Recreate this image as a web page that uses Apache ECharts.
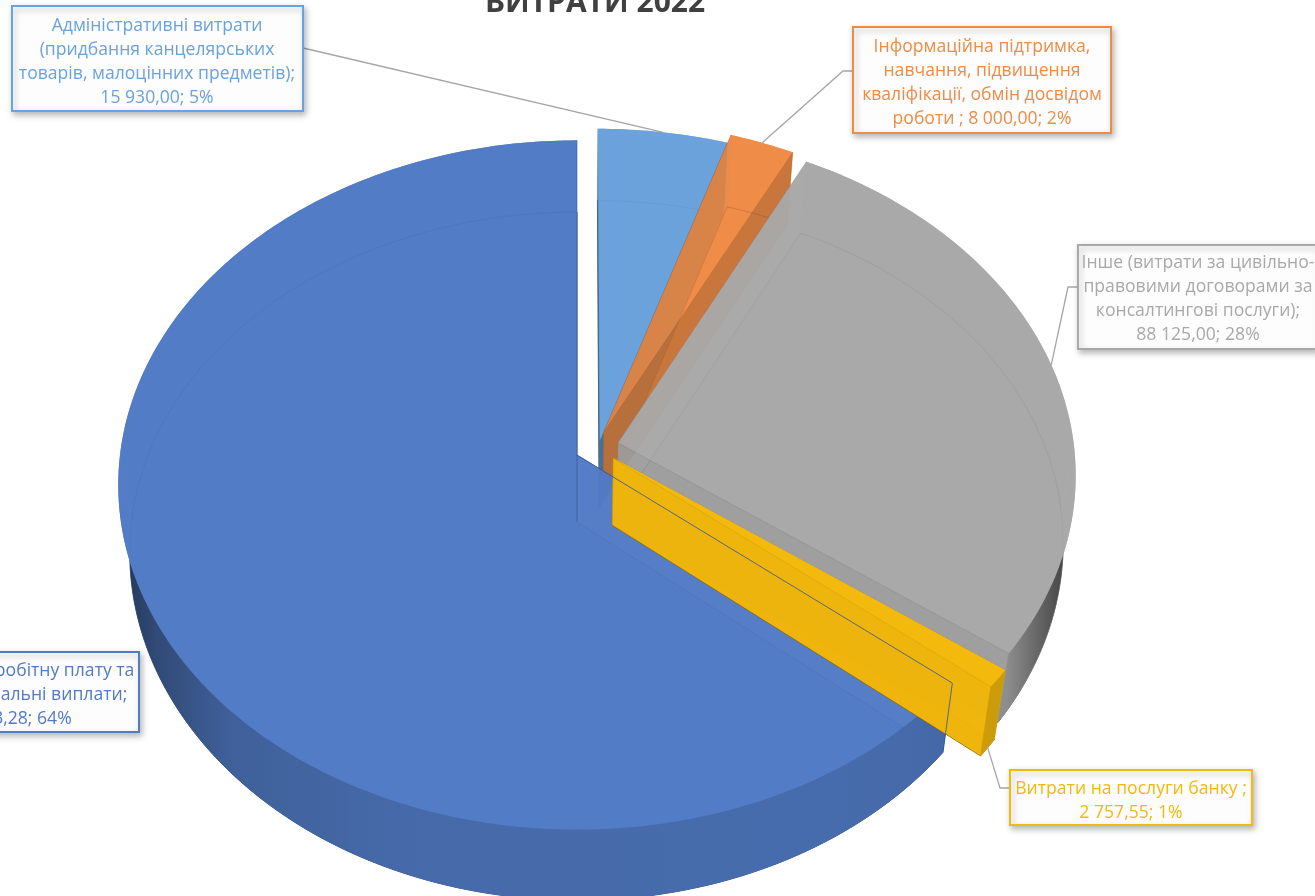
<!DOCTYPE html>
<html>
<head>
<meta charset="utf-8">
<style>html,body{margin:0;padding:0;background:#fff;overflow:hidden}#c{width:1315px;height:896px}</style>
<script src="https://cdn.jsdelivr.net/npm/echarts@6/dist/echarts.min.js"></script>
</head>
<body>
<div id="c"></div>
<script>
const titleText = 'ВИТРАТИ 2022';
const categories = [
  'Адміністративні витрати\n(придбання канцелярських\nтоварів, малоцінних предметів);\n',
  'Інформаційна підтримка,\nнавчання, підвищення\nкваліфікації, обмін досвідом\nроботи ; ',
  'Інше (витрати за цивільно-\nправовими договорами за\nконсалтингові послуги);\n',
  'Витрати на послуги банку ;\n',
  'Витрати на заробітну плату та\nй всі інші соціальні виплати;\n'
];
const values = [15930.00, 8000.00, 88125.00, 2757.55, 205403.28];
const colors = ['#6AA2DB', '#EE8B45', '#A9A9A9', '#F3B90C', '#517BC5'];

const view = {cx: 577, cy: 455, rx: 457, ry: 342, k: 0.087, depth: 67, shrink: 0.975};
const explodeX = [0.05, 0.059, 0.09, 0.079, 0];
const explodeY = [-0.04, -0.067, -0.035, 0.009, 0];
const drawRank = [0, 1, 2, 4, 3];
const wallShade = [0.6, 0.8, 0.92, 0.98, 0.9];
const topAlpha = [0.9, 0.72, 0.88, 0.9, 0.9];
const boxes = [
  {x: 12, y: 6, w: 291, h: 105, tx: 157, ty: 62, from: [303, 48], via: [316, 51], bottomEnd: false},
  {x: 853, y: 27, w: 258, h: 106, tx: 982, ty: 83, from: [853, 71], via: [843, 71], bottomEnd: false},
  {x: 1078, y: 245, w: 240, h: 104, tx: 1198, ty: 299, from: [1078, 287], via: [1068, 287], bottomEnd: false},
  {x: 1010, y: 770, w: 242, h: 55, tx: 1131, ty: 801, from: [1010, 788], via: [1000, 788], bottomEnd: true},
  {x: -127, y: 652, w: 266, h: 80, tx: 5, ty: 695}
];

const total = values.reduce((a, b) => a + b, 0);
const fmt = v => {
  const p = v.toFixed(2).split('.');
  return p[0].replace(/\B(?=(\d{3})+(?!\d))/g, ' ') + ',' + p[1];
};
function project(X, Y, bottom) {
  const w = 1 - view.k * Y;
  let sx = view.rx * X / w, sy = view.ry * Y / w;
  if (bottom) {
    sx *= view.shrink;
    sy = sy * (sy < 0 ? 0.985 : 1.01) + view.depth;
  }
  return [view.cx + sx, view.cy + sy];
}
// screen point back to the plane of the top face
function unproject(p) {
  const sx = p[0] - view.cx, sy = p[1] - view.cy;
  const Y = sy / (view.ry + view.k * sy);
  const X = sx * (1 - view.k * Y) / view.rx;
  return [X, Y];
}
function shade(hex, f) {
  const n = parseInt(hex.slice(1), 16);
  const c = [n >> 16, (n >> 8) & 255, n & 255].map(v => Math.round(v * f));
  return 'rgb(' + c.join(',') + ')';
}
function render(params, api) {
  const i = params.dataIndex;
  const v = api.value(0);
  let start = 0;
  for (let j = 0; j < i; j++) start += values[j];
  const a0 = start / total * Math.PI * 2;
  const a1 = (start + v) / total * Math.PI * 2;
  const ox = explodeX[i], oy = explodeY[i];
  const pt = (a, b) => project(Math.sin(a) + ox, -Math.cos(a) + oy, b);
  const apex = b => project(ox, oy, b);
  const arc = (s, e, b) => {
    const out = [];
    const n = Math.max(2, Math.ceil(Math.abs(e - s) / 0.015));
    for (let t = 0; t <= n; t++) out.push(pt(s + (e - s) * t / n, b));
    return out;
  };
  const base = colors[i];
  const z = drawRank[i] * 10 + 10;
  const poly = (points, fill, opacity, dz, stroke, lw) => ({
    type: 'polygon', silent: true, z2: z + dz,
    shape: {points},
    style: {fill, opacity, stroke: stroke || null, lineWidth: lw || 0}
  });
  const rim = (s, e) => arc(s, e, false).concat(arc(s, e, true).reverse());
  const frontGrad = new echarts.graphic.LinearGradient(118, 0, 1063, 0, [
    {offset: 0, color: shade(base, 0.42)},
    {offset: 0.04, color: shade(base, 0.6)},
    {offset: 0.12, color: shade(base, 0.78)},
    {offset: 0.3, color: shade(base, 0.86)},
    {offset: 0.75, color: shade(base, 0.88)},
    {offset: 0.94, color: shade(base, 0.84)},
    {offset: 1, color: shade(base, 0.42)}
  ], true);
  const PI = Math.PI;
  const edge = shade(base, 0.42);
  const children = [];
  // underlay of the whole side, so the top face has an even tone
  const backRanges = [[a0, Math.min(a1, PI / 2)], [Math.max(a0, PI * 1.5), a1]];
  backRanges.forEach(r => { if (r[1] > r[0]) children.push(poly(rim(r[0], r[1]), base, 0.95, 0)); });
  const fs = Math.max(a0, PI / 2), fe = Math.min(a1, PI * 1.5);
  // bottom face
  children.push(poly([apex(true)].concat(arc(a0, a1, true)), base, 0.95, 1, edge, 0.9));
  if (fe > fs) {
    const topOnly = arc(fs, fe, false).concat(arc(fs, fe, true).reverse());
    children.push(poly(topOnly, base, 0.95, 1));
  }
  // radial walls
  const wall = a => [apex(false), pt(a, false), pt(a, true), apex(true)];
  children.push(poly(wall(a0), shade(base, wallShade[i]), 0.72, 2, shade(base, 0.72), 0.5));
  // top face
  children.push(poly([apex(false)].concat(arc(a0, a1, false)), base, topAlpha[i], 3));
  // wall on the clockwise side
  children.push(poly(wall(a1), shade(base, wallShade[i]), i === 3 ? 0.97 : 0.8, 4, shade(base, 0.72), 0.4));
  // front rim: only the part of the side that falls outside the top face
  if (fe > fs) {
    const outside = [];
    const n = Math.ceil((fe - fs) / 0.005);
    for (let t = 0; t <= n; t++) {
      const a = fs + (fe - fs) * t / n;
      const u = unproject(pt(a, true));
      const dx = u[0] - ox, dy = u[1] - oy;
      if (dx * dx + dy * dy > 1) outside.push({a, top: Math.atan2(dx, -dy)});
    }
    if (outside.length > 1) {
      const first = outside[0], last = outside[outside.length - 1];
      const norm = x => (x < 0 ? x + 2 * PI : x);
      const topS = first.a === fs ? fs : norm(first.top);
      const topE = last.a === fe ? fe : norm(last.top);
      children.push(poly(arc(topS, topE, false).concat(arc(first.a, last.a, true).reverse()), frontGrad, 1, 5));
    }
  }
  if (i === 3) {
    children.push(poly([apex(false)].concat(arc(a0, a1, false)), base, 1, 6));
  }
  // thin outline of the large slice stays visible through neighbours
  if (i === 4) {
    children.push({
      type: 'polyline', silent: true, z2: 90,
      shape: {points: [apex(false), pt(a0, false), pt(a0, true)]},
      style: {stroke: '#2F5597', lineWidth: 1, opacity: 0.8, fill: null}
    });
  }
  // label
  const b = boxes[i];
  const mid = (a0 + a1) / 2;
  const label = categories[i] + fmt(v) + '; ' + Math.round(v / total * 100) + '%';
  if (b.from) {
    children.push({
      type: 'polyline', silent: true, z2: 100,
      shape: {points: [b.from, b.via, pt(mid, b.bottomEnd)]},
      style: {stroke: '#A6A6A6', lineWidth: 1.3, fill: null}
    });
  }
  children.push({
    type: 'rect', silent: true, z2: 101,
    shape: {x: b.x, y: b.y, width: b.w, height: b.h},
    style: {fill: 'rgba(255,255,255,0.96)', stroke: base, lineWidth: 2,
      shadowBlur: 6, shadowColor: 'rgba(0,0,0,0.28)', shadowOffsetX: 2, shadowOffsetY: 3}
  });
  children.push({
    type: 'text', silent: true, z2: 102, x: b.tx, y: b.ty,
    style: {text: label, fill: base, fontFamily: '"Open Sans"', fontSize: 17.6, lineHeight: 24,
      align: 'center', verticalAlign: 'middle'}
  });
  return {type: 'group', children};
}
const chart = echarts.init(document.getElementById('c'), null, {renderer: 'canvas'});
chart.setOption({
  backgroundColor: '#fff',
  animation: false,
  title: {text: titleText, left: 590, top: -17, textAlign: 'center',
    textStyle: {fontFamily: '"Open Sans"', fontWeight: 'bold', fontSize: 30, color: '#404040'}},
  series: [{
    type: 'custom', coordinateSystem: 'none', clip: false,
    renderItem: render,
    data: values.map(v => [v])
  }]
});
</script>
</body>
</html>
